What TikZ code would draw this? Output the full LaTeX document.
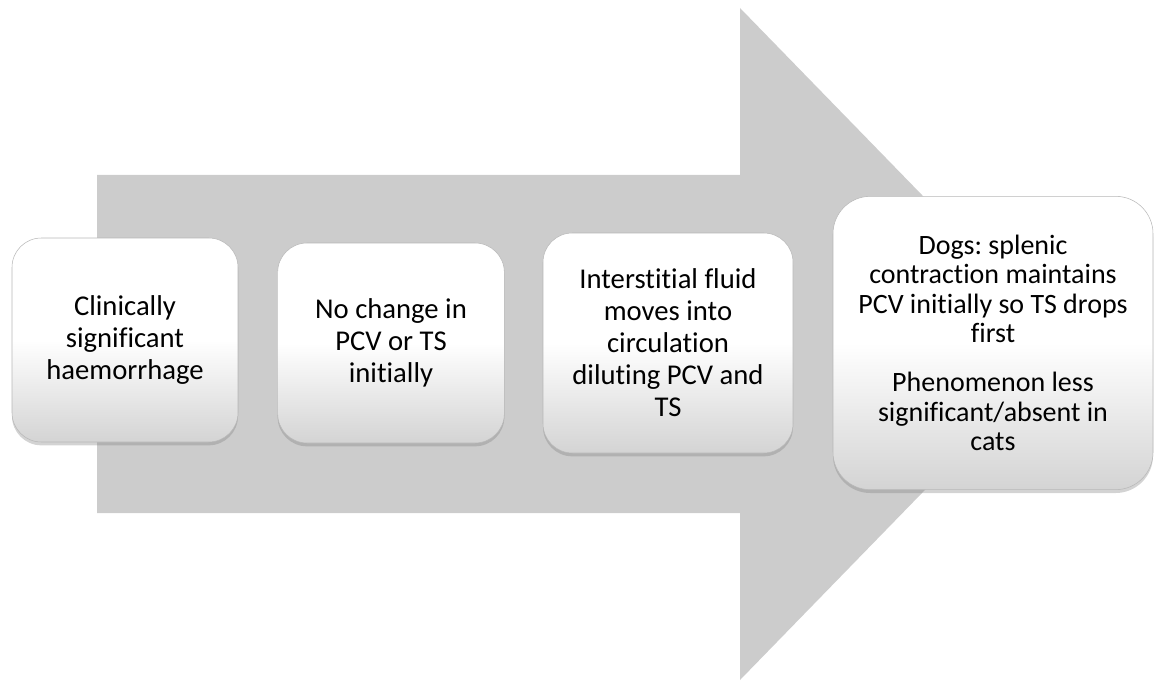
\documentclass[tikz,border=0pt]{standalone}
\usepackage{fontspec}
\setmainfont[Ligatures={NoCommon}]{Carlito}
\frenchspacing
\usetikzlibrary{shadows,positioning}
\tikzset{
  bigarrow/.style={fill=black!20, draw=none},
  stepbox/.style={
    rounded corners=22pt,
    draw=black!28, thin,
    top color=white, bottom color=black!17, middle color=white,
    align=center, inner sep=4pt,
    drop shadow={shadow xshift=0pt, shadow yshift=-2.5pt, opacity=0.35},
    font=\fontsize{21.5}{24}\selectfont,
  },
}

\begin{document}
\begin{tikzpicture}[x=0.75pt, y=-0.75pt]
    \useasboundingbox (0,0) rectangle (1156,681) ;

    % the grey arrow behind the steps
    \path [bigarrow] ( 97,175) -- (740,175) -- (740,  8) -- (1067,344)
          -- (740,680) -- (740,513) -- ( 97,513) -- cycle ;

    \node (clinical) [stepbox, minimum width=169.5pt, minimum height=153pt]
          at (125,340) {Clinically\\significant\\haemorrhage} ;
    \node (nochange) [stepbox, minimum width=170pt, minimum height=150pt]
          at (391,343) {No change in\\PCV or TS\\initially} ;
    \node (interstitial) [stepbox, minimum width=187.5pt, minimum height=165pt]
          at (668,343) {Interstitial fluid\\moves into\\circulation\\diluting PCV and\\TS} ;
    \node (splenic) [stepbox, rounded corners=28pt, minimum width=240pt,
          minimum height=220pt, font=\fontsize{21}{22}\selectfont]
          at (993,343) {Dogs: splenic\\contraction maintains\\PCV initially so TS drops\\first\\[15pt]Phenomenon less\\significant/absent in\\cats} ;
\end{tikzpicture}
\end{document}
